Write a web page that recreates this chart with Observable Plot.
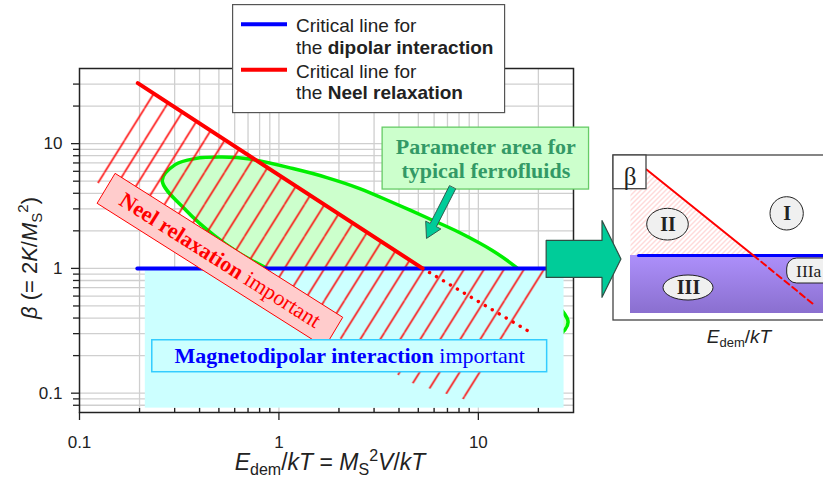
<!DOCTYPE html>
<html><head><meta charset="utf-8">
<script src="https://cdn.jsdelivr.net/npm/d3@7"></script>
<script src="https://cdn.jsdelivr.net/npm/@observablehq/plot@0.6"></script>
<style>
html,body{margin:0;padding:0;background:#fff;overflow:hidden}
#wrap{position:relative;width:823px;height:486px;overflow:hidden;background:#fff}
#wrap > svg{position:absolute;left:0;top:0}
</style></head><body>
<svg width="0" height="0" style="position:absolute">
  <defs>
    <pattern id="redHatch" patternUnits="userSpaceOnUse" width="20" height="32">
      <path d="M-20,32L0,0M0,32L20,0M20,32L40,0" stroke="#ff0000" stroke-width="1.5" fill="none"></path>
    </pattern>
    <pattern id="pinkHatch" patternUnits="userSpaceOnUse" width="5" height="5">
      <path d="M-5,5L0,0M0,5L5,0M5,5L10,0" stroke="#ffb4b4" stroke-width="1" fill="none"></path>
    </pattern>
    <linearGradient id="purpleGrad" x1="0" y1="0" x2="0" y2="1">
      <stop offset="0" stop-color="#ad90fb"></stop>
      <stop offset="1" stop-color="#8a6fcf"></stop>
    </linearGradient>
  </defs>
</svg>
<div id="wrap"></div>
<script>
// ---------- axes / ticks ----------
const majorX = [0.1, 1, 10];
const minorX = [0.2, 0.3, 0.4, 0.5, 0.6, 0.7, 0.8, 0.9, 2, 3, 4, 5, 6, 7, 8, 9, 20];
const majorY = [0.1, 1, 10];
const minorY = [0.08, 0.09, 0.2, 0.3, 0.4, 0.5, 0.6, 0.7, 0.8, 0.9, 2, 3, 4, 5, 6, 7, 8, 9, 20, 30];
const gridX = [0.2, 0.3, 0.4, 0.5, 0.6, 0.7, 0.8, 0.9, 1, 2, 3, 4, 5, 6, 7, 8, 9, 10, 20];
const gridY = [0.08, 0.09, 0.1, 0.2, 0.3, 0.4, 0.5, 0.6, 0.7, 0.8, 0.9, 1, 2, 3, 4, 5, 6, 7, 8, 9, 10, 20, 30];

// ---------- critical lines ----------
const dipolarLine = [{E: 0.195, beta: 1}, {E: 25, beta: 1}];
const neelLine = [{E: 0.196, beta: 30.5}, {E: 5.25, beta: 1}];
const neelLineExtension = [{E: 5.25, beta: 1}, {E: 18.2, beta: 0.308}];

// ---------- regions ----------
const dipolarRegion = [{E1: 0.2138, E2: 26.9, b1: 0.0759, b2: 1}];
const neelHatchRegion = [
  {E: 0.2213, beta: 27.04}, {E: 5.25, beta: 1}, {E: 21.88, beta: 1}, {E: 23.44, beta: 0.832},
  {E: 9.77, beta: 0.0832}, {E: 4.52, beta: 0.1225}, {E: 2.018, beta: 0.275}, {E: 0.1161, beta: 5.15}
];
const ferrofluidArea = [
  {E: 0.2600, beta: 5.058}, {E: 0.3020, beta: 6.792}, {E: 0.3802, beta: 7.586}, {E: 0.5188, beta: 7.798},
  {E: 0.7161, beta: 7.516}, {E: 1.175, beta: 6.310}, {E: 1.738, beta: 5.346}, {E: 2.541, beta: 4.365},
  {E: 3.715, beta: 3.373}, {E: 5.495, beta: 2.559}, {E: 8.035, beta: 1.941}, {E: 11.75, beta: 1.393},
  {E: 15.49, beta: 1.019}, {E: 21.38, beta: 0.6427}, {E: 28.18, beta: 0.3698}, {E: 24.27, beta: 0.2754},
  {E: 19.28, beta: 0.2466}, {E: 14.13, beta: 0.2399}, {E: 10.23, beta: 0.2489}, {E: 6.237, beta: 0.2965},
  {E: 4.217, beta: 0.3499}, {E: 2.884, beta: 0.4285}, {E: 1.972, beta: 0.5546}, {E: 1.334, beta: 0.7311},
  {E: 0.9120, beta: 0.9638}, {E: 0.6237, beta: 1.343}, {E: 0.4732, beta: 1.837}, {E: 0.3428, beta: 2.911}
];

// ---------- annotations ----------
const neelLabelBox = [{E: 0.1514, beta: 5.754}, {E: 2.089, beta: 0.4055}, {E: 1.698, beta: 0.2333}, {E: 0.123, beta: 3.311}];
const neelLabelParts = [{t: "Neel relaxation", bold: true}, {t: " important", bold: false}];
const magnetoBox = [{E1: 0.2317, E2: 22.13, b1: 0.1472, b2: 0.2655}];
const magnetoLabelParts = [{t: "Magnetodipolar interaction", bold: true}, {t: " important", bold: false}];
const paramBox = [{E1: 3.311, E2: 35.9, b1: 4.285, b2: 13.43}];
const paramLabel = "Parameter area for\ntypical ferrofluids";
const pointerArrow = [
  {E: 7.685, beta: 4.317}, {E: 6.160, beta: 2.160}, {E: 6.486, beta: 2.070}, {E: 5.495, beta: 1.738},
  {E: 5.445, beta: 2.390}, {E: 5.734, beta: 2.291}, {E: 7.153, beta: 4.579}
];
const zoomArrow = [
  {E: 21.88, beta: 1.675}, {E: 41.69, beta: 1.675}, {E: 41.69, beta: 2.421}, {E: 51.88, beta: 1.191},
  {E: 41.69, beta: 0.5861}, {E: 41.69, beta: 0.8472}, {E: 21.88, beta: 0.8472}
];
const hatchAnchor = {E: 8.5, beta: 1};

// ---------- legend ----------
const legendItems = [
  {color: "#0000ff", line1: "Critical line for", pre: "the ", bold: "dipolar interaction"},
  {color: "#ff0000", line1: "Critical line for", pre: "the ", bold: "Neel relaxation"}
];

// ---------- inset schematic (arbitrary schematic units) ----------
const insetFrame = [{x1: 6.5, x2: 115, y1: 15, y2: 97.5}];
const betaBox = [{x1: 6.5, x2: 23, y1: 80.65, y2: 97.5}];
const betaLabel = [{x: 14.75, y: 87, text: "β"}];
const regionII = [{x: 15, y: 80.5}, {x: 23, y: 80.5}, {x: 23, y: 90.5}, {x: 76.5, y: 47.5}, {x: 15, y: 47.5}];
const regionIII = [{x1: 15, x2: 115, y1: 18.5, y2: 47.5}];
const insetDipolar = [{x: 19, y: 47.5}, {x: 115, y: 47.5}];
const insetNeel = [{x: 23, y: 90.5}, {x: 76.5, y: 47.5}];
const insetNeelExt = [{x: 76.5, y: 47.5}, {x: 106, y: 23.5}];
const regionBadges = [
  {x1: 23.35, x2: 44.15, y1: 55, y2: 70.85, name: "II"},
  {x1: 85, x2: 101.65, y1: 60, y2: 76.65, name: "I"},
  {x1: 31.5, x2: 56.5, y1: 25, y2: 37.5, name: "III"}
];
const badgeIIIa = [{x1: 93.35, x2: 125, y1: 33.5, y2: 46, name: "IIIa", tx: 97.8}];

const sans = "'Liberation Sans', Arial, Helvetica, sans-serif";
const serif = "'Liberation Serif', 'Times New Roman', Times, serif";

const logCenter = (pts) => ({
  E: Math.pow(10, d3.mean(pts, d => Math.log10(d.E))),
  beta: Math.pow(10, d3.mean(pts, d => Math.log10(d.beta)))
});
const boxCenter = (b) => ({E: Math.sqrt(b.E1 * b.E2), beta: Math.sqrt(b.b1 * b.b2)});
const joinParts = (p) => p.map(d => d.t).join("");

const neelLabel = [{...logCenter(neelLabelBox), text: joinParts(neelLabelParts)}];
const magnetoLabel = [{...boxCenter(magnetoBox[0]), text: joinParts(magnetoLabelParts)}];
const paramLabelPos = [{...boxCenter(paramBox[0]), text: paramLabel}];

const W = 823, H = 486, mL = 79, mR = 250, mT = 68, mB = 74;

const main = Plot.plot({
  width: W, height: H,
  marginLeft: mL, marginRight: mR, marginTop: mT, marginBottom: mB,
  x: {type: "log", domain: [0.1, 30]},
  y: {type: "log", domain: [0.07, 40]},
  style: {background: "transparent", fontFamily: sans, fontSize: "17px", color: "#222", overflow: "visible"},
  marks: [
    Plot.ruleX(gridX, {x: d => d, stroke: "#cfcfcf", strokeWidth: 1.3}),
    Plot.ruleY(gridY, {y: d => d, stroke: "#cfcfcf", strokeWidth: 1.3}),
    Plot.line(ferrofluidArea, {x: "E", y: "beta", curve: "catmull-rom-closed", fill: "#ccffcc", stroke: "#00ee00", strokeWidth: 3.5}),
    Plot.rect(dipolarRegion, {x1: "E1", x2: "E2", y1: "b1", y2: "b2", fill: "#ccffff"}),
    Plot.line(neelHatchRegion, {x: "E", y: "beta", curve: "linear-closed", fill: "url(#redHatch)", stroke: "none"}),
    Plot.line(dipolarLine, {x: "E", y: "beta", stroke: "#0000ff", strokeWidth: 4}),
    Plot.line(neelLine, {x: "E", y: "beta", stroke: "#ff0000", strokeWidth: 4}),
    Plot.line(neelLineExtension, {x: "E", y: "beta", stroke: "#ff0000", strokeWidth: 3.4, strokeDasharray: "0.1,8", strokeLinecap: "round"}),
    Plot.line(neelLabelBox, {x: "E", y: "beta", curve: "linear-closed", fill: "#ffcccc", stroke: "#ff0000", strokeWidth: 1}),
    Plot.text(neelLabel, {x: "E", y: "beta", text: "text", rotate: 32.3, fill: "#ff0000", fontFamily: serif, fontSize: 22}),
    Plot.rect(magnetoBox, {x1: "E1", x2: "E2", y1: "b1", y2: "b2", fill: "#ccffff", stroke: "#33ccff", strokeWidth: 1.5}),
    Plot.text(magnetoLabel, {x: "E", y: "beta", text: "text", fill: "#0000ff", fontFamily: serif, fontSize: 22}),
    Plot.frame({stroke: "#222", strokeWidth: 1.5}),
    Plot.tickX(minorX, {x: d => d, insetTop: H - mT - mB - 4, stroke: "#222", strokeWidth: 1.3}),
    Plot.axisX({ticks: majorX, tickSize: 8, tickPadding: 15, tickFormat: d => String(d), label: null, strokeWidth: 1.3, fontSize: 17}),
    Plot.axisY({ticks: majorY, tickSize: 8, tickPadding: 9, tickFormat: d => String(d), label: null, strokeWidth: 1.3, fontSize: 17}),
    Plot.axisY({ticks: minorY, tickSize: 6, tickFormat: () => "", label: null, strokeWidth: 1.3}),
    Plot.rect(paramBox, {x1: "E1", x2: "E2", y1: "b1", y2: "b2", fill: "#ccffcc", stroke: "#66cc66", strokeWidth: 1.3}),
    Plot.text(paramLabelPos, {x: "E", y: "beta", text: "text", lineHeight: 1.09, fill: "#339966", fontFamily: serif, fontWeight: "bold", fontSize: 22}),
    Plot.line(pointerArrow, {x: "E", y: "beta", curve: "linear-closed", fill: "#00cc99", stroke: "#2f5f50", strokeWidth: 1}),
    Plot.line(zoomArrow, {x: "E", y: "beta", curve: "linear-closed", fill: "#00cc99", stroke: "#2f4f45", strokeWidth: 1.2})
  ]
});

// hatch phase from the scales (integer offsets keep the tile crisp)
const hx = Math.round(main.scale("x").apply(hatchAnchor.E)), hy = Math.round(main.scale("y").apply(hatchAnchor.beta));
document.getElementById("redHatch").setAttribute("patternTransform", `translate(${hx},${hy})`);

// mixed bold / regular runs
function styleRuns(svg, runs) {
  d3.select(svg).selectAll("text").each(function () {
    const el = this;
    const r = runs.find(r => joinParts(r) === el.textContent);
    if (!r) return;
    while (el.firstChild) el.removeChild(el.firstChild);
    el.style.whiteSpace = "pre";
    r.forEach(p => {
      const ts = document.createElementNS("http://www.w3.org/2000/svg", "tspan");
      ts.setAttribute("font-weight", p.bold ? "bold" : "normal");
      ts.textContent = p.t;
      el.appendChild(ts);
    });
  });
}
styleRuns(main, [neelLabelParts, magnetoLabelParts]);

// axis titles
const ms = d3.select(main);
function richText(sel, parts) {
  parts.forEach(p => {
    const ts = sel.append("tspan").text(p.t);
    if (p.i) ts.attr("font-style", "italic");
    if (p.s) ts.attr("font-size", p.s);
    if (p.dy) ts.attr("dy", p.dy);
  });
}
const xt = ms.append("text").attr("x", 330).attr("y", 470).attr("text-anchor", "middle")
  .attr("font-family", sans).attr("font-size", 23).attr("fill", "#222").style("white-space", "pre");
richText(xt, [
  {t: "E", i: 1}, {t: "dem", s: 16, dy: 5}, {t: "/", dy: -5}, {t: "kT", i: 1}, {t: " = "},
  {t: "M", i: 1}, {t: "S", s: 16, dy: 5}, {t: "2", s: 16, dy: -14}, {t: "V", i: 1, dy: 9}, {t: "/"}, {t: "kT", i: 1}
]);
const yt = ms.append("text").attr("transform", "translate(37,258) rotate(-90)").attr("text-anchor", "middle")
  .attr("font-family", sans).attr("font-size", 22).attr("fill", "#222").style("white-space", "pre");
richText(yt, [
  {t: "β", i: 1}, {t: " (= 2"}, {t: "K", i: 1}, {t: "/"}, {t: "M", i: 1},
  {t: "S", s: 15, dy: 5}, {t: "2", s: 15, dy: -14}, {t: ")", dy: 9}
]);

// inset schematic
const inset = Plot.plot({
  width: 223, height: 200, margin: 0,
  x: {domain: [0, 111.5], axis: null},
  y: {domain: [0, 100], axis: null},
  style: {background: "transparent", overflow: "hidden"},
  marks: [
    Plot.rect(insetFrame, {x1: "x1", x2: "x2", y1: "y1", y2: "y2", fill: "#fff", stroke: "#444", strokeWidth: 1.3}),
    Plot.line(regionII, {x: "x", y: "y", curve: "linear-closed", fill: "url(#pinkHatch)", stroke: "none"}),
    Plot.rect(regionIII, {x1: "x1", x2: "x2", y1: "y1", y2: "y2", fill: "url(#purpleGrad)"}),
    Plot.line(insetDipolar, {x: "x", y: "y", stroke: "#0000ff", strokeWidth: 3}),
    Plot.line(insetNeel, {x: "x", y: "y", stroke: "#ff0000", strokeWidth: 2}),
    Plot.line(insetNeelExt, {x: "x", y: "y", stroke: "#ff0000", strokeWidth: 2, strokeDasharray: "6,4"}),
    Plot.rect(betaBox, {x1: "x1", x2: "x2", y1: "y1", y2: "y2", fill: "#fff", stroke: "#444", strokeWidth: 1.3}),
    Plot.text(betaLabel, {x: "x", y: "y", text: "text", fontFamily: serif, fontSize: 25, fill: "#222"}),
    Plot.rect(regionBadges, {x1: "x1", x2: "x2", y1: "y1", y2: "y2", rx: 100, fill: "#f0f0f0", stroke: "#222", strokeWidth: 1}),
    Plot.rect(badgeIIIa, {x1: "x1", x2: "x2", y1: "y1", y2: "y2", rx: 10, fill: "#f0f0f0", stroke: "#222", strokeWidth: 1}),
    Plot.text(regionBadges, {x: d => (d.x1 + d.x2) / 2, y: d => (d.y1 + d.y2) / 2, text: "name", fontFamily: serif, fontWeight: "bold", fontSize: 20, fill: "#222"}),
    Plot.text(badgeIIIa, {x: "tx", y: d => (d.y1 + d.y2) / 2, text: "name", textAnchor: "start", fontFamily: serif, fontSize: 17.5, fill: "#222"})
  ]
});

const wrap = document.getElementById("wrap");
inset.style.left = "600px"; inset.style.top = "150px"; inset.style.position = "absolute";
wrap.appendChild(inset);
main.style.position = "absolute"; main.style.left = "0px"; main.style.top = "0px";
wrap.appendChild(main);

// inset axis caption
const cap = d3.create("svg").attr("width", 110).attr("height", 36)
  .style("position", "absolute").style("left", "684px").style("top", "318px");
const ct = cap.append("text").attr("x", 55).attr("y", 25).attr("text-anchor", "middle")
  .attr("font-family", sans).attr("font-size", 19).attr("fill", "#222");
richText(ct, [{t: "E", i: 1}, {t: "dem", s: 13, dy: 4}, {t: "/", dy: -4}, {t: "kT", i: 1}]);
wrap.appendChild(cap.node());

// legend
const leg = d3.create("svg").attr("width", 274).attr("height", 110)
  .style("position", "absolute").style("left", "232px").style("top", "4px");
leg.append("rect").attr("x", 0.6).attr("y", 0.6).attr("width", 272).attr("height", 108)
  .attr("fill", "#fff").attr("stroke", "#555").attr("stroke-width", 1.2);
legendItems.forEach((d, i) => {
  const o = i * 45.5;
  leg.append("line").attr("x1", 9).attr("x2", 55).attr("y1", 20.2 + o).attr("y2", 20.2 + o)
    .attr("stroke", d.color).attr("stroke-width", 4);
  leg.append("text").attr("x", 64).attr("y", 28 + o).attr("font-family", sans).attr("font-size", 19)
    .attr("fill", "#222").text(d.line1);
  const t = leg.append("text").attr("x", 64).attr("y", 49.6 + o).attr("font-family", sans).attr("font-size", 19)
    .attr("fill", "#222").style("white-space", "pre");
  t.append("tspan").text(d.pre);
  t.append("tspan").attr("font-weight", "bold").text(d.bold);
});
wrap.appendChild(leg.node());
</script>
</body></html>
